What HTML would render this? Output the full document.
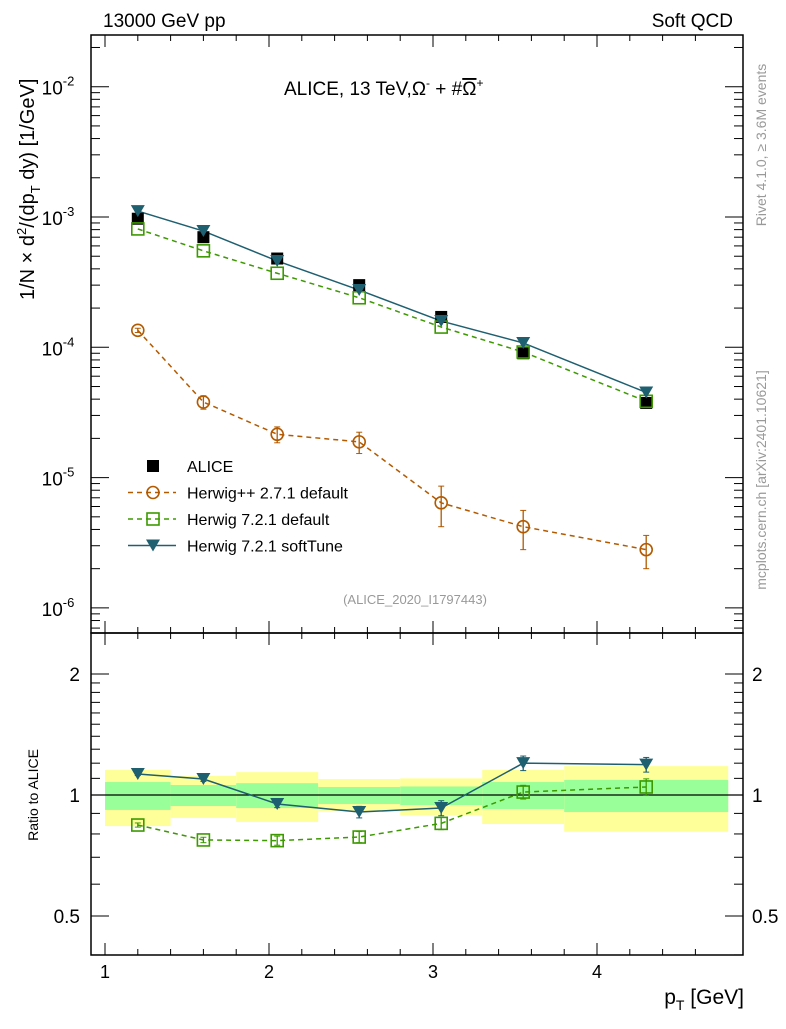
<!DOCTYPE html>
<html><head><meta charset="utf-8"><style>
body{margin:0;background:#fff}
svg{font-family:"Liberation Sans",sans-serif}
</style></head><body>
<svg id="c" width="786" height="1024" xmlns="http://www.w3.org/2000/svg"></svg>
<script>
const xs=[1.2,1.6,2.05,2.55,3.05,3.55,4.3];
const binLo=[1.0,1.4,1.8,2.3,2.8,3.3,3.8];
const binHi=[1.4,1.8,2.3,2.8,3.3,3.8,4.8];
const alice=[0.97e-3,0.70e-3,0.48e-3,0.30e-3,1.71e-4,0.90e-4,3.74e-5];
const hpp=[1.35e-4,3.8e-5,2.15e-5,1.88e-5,6.4e-6,4.2e-6,2.8e-6];
const hppErr=[0.05e-4,0.45e-5,0.3e-5,0.35e-5,2.2e-6,1.4e-6,0.8e-6];
const def=[0.81e-3,0.55e-3,0.37e-3,0.24e-3,1.43e-4,0.92e-4,3.85e-5];
const soft=[1.11e-3,0.78e-3,0.46e-3,0.275e-3,1.59e-4,1.08e-4,4.5e-5];
const rSoft=[1.128,1.096,0.95,0.907,0.928,1.20,1.19];
const rSoftErr=[0.01,0.015,0.02,0.03,0.04,0.05,0.05];
const rDef=[0.842,0.773,0.77,0.786,0.85,1.017,1.047];
const rDefErr=[0.01,0.012,0.02,0.025,0.03,0.04,0.05];
const yelLo=[0.837,0.877,0.857,0.912,0.89,0.847,0.81];
const yelHi=[1.154,1.115,1.14,1.096,1.10,1.154,1.18];
const grnLo=[0.918,0.939,0.928,0.95,0.944,0.923,0.907];
const grnHi=[1.077,1.059,1.07,1.047,1.05,1.077,1.09];
const xTicks=[1,2,3,4];
const yTickExp=[-2,-3,-4,-5,-6];
const rTicks=[2,1,0.5];

const NS="http://www.w3.org/2000/svg";
const svg=document.getElementById('c');
const L=91,R=743,T=35,M=633,B=955;
const X=v=>105+(v-1)*164;
const Y=v=>217-(Math.log10(v)+3)*130.3;
const RY=v=>795-Math.log2(v)*121;
function el(tag,at,txt){const e=document.createElementNS(NS,tag);for(const k in at)e.setAttribute(k,at[k]);if(txt!==undefined)e.textContent=txt;svg.appendChild(e);return e;}

for(let i=0;i<binLo.length;i++){
 const y1=el('rect',{x:X(binLo[i]),y:RY(yelHi[i]),width:X(binHi[i])-X(binLo[i]),height:RY(yelLo[i])-RY(yelHi[i]),fill:'#ffff99'});
 
 
 const g1=el('rect',{x:X(binLo[i]),y:RY(grnHi[i]),width:X(binHi[i])-X(binLo[i]),height:RY(grnLo[i])-RY(grnHi[i]),fill:'#99ff99'});
 
 
}
const one=el('line',{x1:L,x2:R,y1:RY(1),y2:RY(1),stroke:'#000','stroke-width':1.2});



const f1=el('rect',{x:L,y:T,width:R-L,height:M-T,fill:'none',stroke:'#000','stroke-width':1.5});


const f2=el('rect',{x:L,y:M,width:R-L,height:B-M,fill:'none',stroke:'#000','stroke-width':1.5});



for(let v=1;v<=4.8;v+=0.2){const big=Math.abs(v-Math.round(v))<1e-6;const len=big?12:6;
 for(const [yt,yb] of [[T,M],[M,B]]){el('line',{x1:X(v),x2:X(v),y1:yb,y2:yb-len,stroke:'#000'});el('line',{x1:X(v),x2:X(v),y1:yt,y2:yt+len,stroke:'#000'});}}
xTicks.forEach(v=>{const t=el('text',{x:X(v),y:978,'font-size':18,'text-anchor':'middle'},String(v));});
for(let e=-7;e<=-2;e++)for(let m=1;m<10;m++){const v=m*Math.pow(10,e);const y=Y(v);if(y<T||y>M)continue;const len=m==1?18:9;
 el('line',{x1:L,x2:L+len,y1:y,y2:y,stroke:'#000'});el('line',{x1:R,x2:R-len,y1:y,y2:y,stroke:'#000'});}
yTickExp.forEach(e=>{const t=el('text',{x:58,y:Y(Math.pow(10,e))+8,'font-size':19,'text-anchor':'middle'});
 t.innerHTML='10<tspan dy="-9" font-size="13">'+e+'</tspan>';});
[0.4,0.5,0.6,0.7,0.8,0.9,1,1.1,1.2,1.3,1.4,1.5,1.6,1.7,1.8,1.9,2].forEach(v=>{const y=RY(v);const big=[0.5,1,2].includes(v);const len=big?18:9;
 el('line',{x1:L,x2:L+len,y1:y,y2:y,stroke:'#000'});el('line',{x1:R,x2:R-len,y1:y,y2:y,stroke:'#000'});});
rTicks.forEach(v=>{const a=el('text',{x:80,y:RY(v)+7,'font-size':19,'text-anchor':'end'},String(v));
 const b=el('text',{x:752,y:RY(v)+7,'font-size':19},String(v));});

function poly(vals,yf,color,dash,name){const p=el('polyline',{points:xs.map((x,i)=>X(x)+','+yf(vals[i])).join(' '),fill:'none',stroke:color,'stroke-width':1.5,'stroke-dasharray':dash||''});}
function errs(vals,err,yf,color){vals.forEach((v,i)=>{const x=X(xs[i]);const a=yf(v+err[i]),b=yf(v-err[i]);el('line',{x1:x,x2:x,y1:a,y2:b,stroke:color,'stroke-width':1.3});el('line',{x1:x-3,x2:x+3,y1:a,y2:a,stroke:color});el('line',{x1:x-3,x2:x+3,y1:b,y2:b,stroke:color});});}
function marker(kind,x,y,color,name){let m;
 if(kind=='sq')m=el('rect',{x:x-6,y:y-6,width:12,height:12,fill:'#000'});
 if(kind=='osq')m=el('rect',{x:x-6,y:y-6,width:12,height:12,fill:'none',stroke:color,'stroke-width':1.6});
 if(kind=='oc')m=el('circle',{cx:x,cy:y,r:6,fill:'none',stroke:color,'stroke-width':1.6});
 if(kind=='tri')m=el('polygon',{points:(x-7)+','+(y-6)+' '+(x+7)+','+(y-6)+' '+x+','+(y+6),fill:color});
 }

const cH='#b35a00',cD='#3c9a00',cS='#1e5f70';
poly(hpp,Y,cH,'5,4','herwigpp-line');errs(hpp,hppErr,Y,cH);
poly(def,Y,cD,'5,4','herwig721-default-line');
poly(soft,Y,cS,'','herwig721-softtune-line');
alice.forEach((v,i)=>marker('sq',X(xs[i]),Y(v),'#000','alice-point'));
hpp.forEach((v,i)=>marker('oc',X(xs[i]),Y(v),cH,'herwigpp-point'));
def.forEach((v,i)=>marker('osq',X(xs[i]),Y(v),cD,'herwig721-default-point'));
soft.forEach((v,i)=>marker('tri',X(xs[i]),Y(v),cS,'herwig721-softtune-point'));
poly(rDef,RY,cD,'5,4','ratio-default-line');errs(rDef,rDefErr,RY,cD);
poly(rSoft,RY,cS,'','ratio-softtune-line');errs(rSoft,rSoftErr,RY,cS);
rDef.forEach((v,i)=>marker('osq',X(xs[i]),RY(v),cD,'ratio-default-point'));
rSoft.forEach((v,i)=>marker('tri',X(xs[i]),RY(v),cS,'ratio-softtune-point'));

const lg=[['sq','#000','ALICE',''],['oc',cH,'Herwig++ 2.7.1 default','5,4'],['osq',cD,'Herwig 7.2.1 default','5,4'],['tri',cS,'Herwig 7.2.1 softTune','']];
lg.forEach((l,i)=>{const y=466+i*26.5;
 if(i>0){const ln=el('line',{x1:128,x2:176,y1:y,y2:y,stroke:l[1],'stroke-width':1.5,'stroke-dasharray':l[3]});}
 marker(l[0],153,y,l[1],'legend-marker');
 const t=el('text',{x:187,y:y+6,'font-size':16},l[2]);});

function txt(a,s,name,html){const t=el('text',a);if(html)t.innerHTML=s;else t.textContent=s;return t;}
txt({x:103,y:27,'font-size':19},'13000 GeV pp','header-left');
txt({x:733,y:27,'font-size':19,'text-anchor':'end'},'Soft QCD','header-right');
txt({x:284,y:95,'font-size':19},'ALICE, 13 TeV,Ω<tspan dy="-8" font-size="12">-</tspan><tspan dy="8"> + #</tspan><tspan text-decoration="overline">Ω</tspan><tspan dy="-8" font-size="12">+</tspan>','plot-title',true);
txt({x:415,y:604,'font-size':13,fill:'#999','text-anchor':'middle'},'(ALICE_2020_I1797443)','analysis-id');
txt({x:0,y:0,'font-size':20,transform:'translate(34,300) rotate(-90)','text-anchor':'start'},'1/N × d<tspan dy="-8" font-size="13">2</tspan><tspan dy="8">/(dp</tspan><tspan dy="6" font-size="13">T</tspan><tspan dy="-6"> dy) [1/GeV]</tspan>','y-axis-title',true);
txt({x:0,y:0,'font-size':14,fill:'#000',transform:'translate(38,795) rotate(-90)','text-anchor':'middle'},'Ratio to ALICE','ratio-axis-title');
txt({x:744,y:1004,'font-size':21,'text-anchor':'end'},'p<tspan dy="6" font-size="14">T</tspan><tspan dy="-6"> [GeV]</tspan>','x-axis-title',true);
txt({x:0,y:0,'font-size':14,fill:'#999',transform:'translate(766,145) rotate(-90)','text-anchor':'middle'},'Rivet 4.1.0, ≥ 3.6M events','rivet-label');
txt({x:0,y:0,'font-size':14,fill:'#999',transform:'translate(766,480) rotate(-90)','text-anchor':'middle'},'mcplots.cern.ch [arXiv:2401.10621]','mcplots-label');
</script>
</body></html>
